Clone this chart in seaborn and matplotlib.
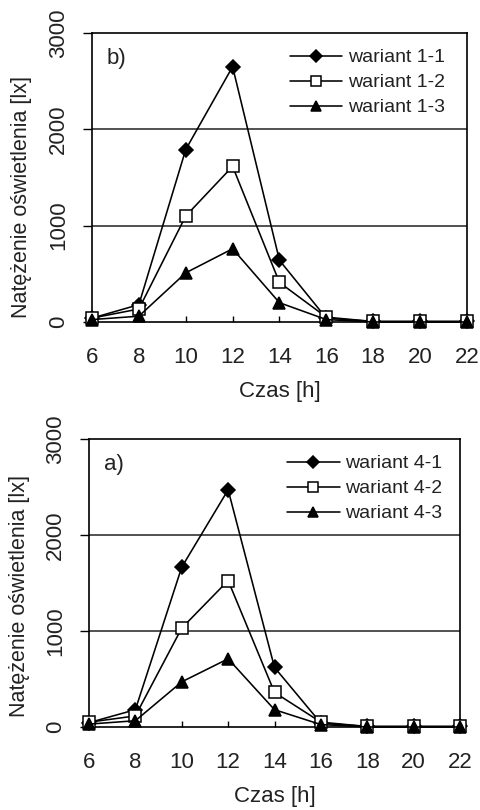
import matplotlib
matplotlib.use("Agg")
import matplotlib.pyplot as plt
import seaborn as sns
import pandas as pd

# ---- data ----
hours = [6, 8, 10, 12, 14, 16, 18, 20, 22]
w11 = [40, 180, 1790, 2650, 640, 40, 5, 5, 5]
w12 = [40, 135, 1100, 1615, 410, 50, 5, 5, 5]
w13 = [25, 60, 510, 760, 200, 25, 0, 0, 0]
w41 = [45, 180, 1665, 2470, 620, 40, 5, 5, 5]
w42 = [50, 115, 1030, 1525, 360, 50, 5, 5, 5]
w43 = [30, 65, 470, 710, 180, 25, 0, 0, 0]

labels_top = ["wariant 1-1", "wariant 1-2", "wariant 1-3"]
labels_bot = ["wariant 4-1", "wariant 4-2", "wariant 4-3"]
xticks = [6, 8, 10, 12, 14, 16, 18, 20, 22]
yticks = [0, 1000, 2000, 3000]
xlabel = "Czas [h]"
ylabel = "Natężenie oświetlenia [lx]"

sns.set_theme(style="white")
plt.rcParams["font.family"] = ["Liberation Sans", "DejaVu Sans"]
plt.rcParams["axes.linewidth"] = 1.2

fig = plt.figure(figsize=(4.8, 8.1), dpi=100)

styles = [
    dict(marker="D", markersize=6.8, markerfacecolor="black"),
    dict(marker="s", markersize=9.2, markerfacecolor="white"),
    dict(marker="^", markersize=8.5, markerfacecolor="black"),
]


def panel(rect, series, labels, tag, ylab_y, leg_x):
    ax = fig.add_axes(rect)
    df = pd.DataFrame({"h": hours * 3,
                       "v": series[0] + series[1] + series[2],
                       "s": [labels[0]] * 9 + [labels[1]] * 9 + [labels[2]] * 9})
    for lab, st in zip(labels, styles):
        sub = df[df["s"] == lab]
        sns.lineplot(data=sub, x="h", y="v", ax=ax, color="black", linewidth=1.15,
                     markeredgecolor="black", markeredgewidth=1.1, clip_on=False,
                     label=lab, zorder=3, **st)
    ax.set_xlim(6, 22)
    ax.set_ylim(0, 3000)
    ax.set_xticks(xticks)
    ax.set_yticks(yticks)
    ax.set_xticklabels([str(t) for t in xticks])
    ax.set_yticklabels([str(t) for t in yticks], rotation=90, va="center")
    for y in [1000, 2000]:
        ax.axhline(y, color="#222222", linewidth=1.1, zorder=1)
    for s in ax.spines.values():
        s.set_color("black")
        s.set_visible(True)
    ax.tick_params(axis="x", direction="in", length=4.5, width=1.0, pad=18,
                   labelsize=16, colors="black", labelcolor="#222222", bottom=True)
    ax.tick_params(axis="y", direction="out", length=6.5, width=1.0, pad=10,
                   labelsize=16, colors="black", labelcolor="#222222", left=True)
    ax.set_xlabel(xlabel, fontsize=16, color="#222222")
    ax.set_ylabel(ylabel, fontsize=15.5, color="#222222")
    ax.xaxis.set_label_coords(0.5, -0.205)
    ax.yaxis.set_label_coords(-0.16, ylab_y)
    ax.text(0.04, 0.91, tag, transform=ax.transAxes, fontsize=16,
            va="center", ha="left", color="#222222")
    ax.legend(loc="upper left", bbox_to_anchor=(leg_x, 0.945), frameon=False,
              fontsize=14, handlelength=2.7, handletextpad=0.3,
              labelspacing=0.38, borderpad=0, borderaxespad=0, markerscale=0.85,
              labelcolor="#222222")
    ax.grid(False)
    return ax


panel([0.1917, 0.6025, 0.781, 0.3568], [w11, w12, w13], labels_top, "b)", 0.434, 0.528)
panel([0.1854, 0.1025, 0.773, 0.3556], [w41, w42, w43], labels_bot, "a)", 0.455, 0.534)

fig.savefig("out.png", dpi=100, facecolor="white")
